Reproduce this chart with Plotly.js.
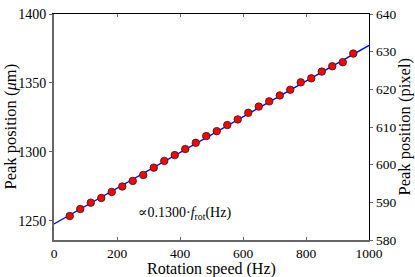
<!DOCTYPE html>
<html>
<head>
<meta charset="utf-8">
<script src="https://cdn.plot.ly/plotly-3.0.1.min.js"></script>
<style>html,body{margin:0;padding:0;background:#fff;}#chart{width:415px;height:277px;}</style>
</head>
<body>
<div id="chart"></div>
<script>
// Rotation speed (Hz) of each measurement
const speedHz = [50, 83.3, 116.7, 150, 183.3, 216.7, 250, 283.3, 316.7, 350,
  383.3, 416.7, 450, 483.3, 516.7, 550, 583.3, 616.7, 650, 683.3,
  716.7, 750, 783.3, 816.7, 850, 883.3, 916.7, 950];
// Measured peak position (µm)
const peakUm = [1253.4, 1258.5, 1263.1, 1266.5, 1270.9, 1274.8, 1278.9, 1283.2, 1288.5, 1293.4,
  1297.6, 1302.0, 1306.5, 1311.4, 1315.0, 1319.4, 1323.5, 1328.3, 1332.8, 1336.6,
  1340.9, 1345.0, 1350.4, 1353.3, 1358.2, 1362.1, 1365.0, 1371.3];
// Linear fit endpoints
const fitX = [0, 1000];
const fitY = [1247.6, 1377.2];
const xTicks = [0, 200, 400, 600, 800, 1000];
const yTicks = [1250, 1300, 1350, 1400];
const y2Ticks = [580, 590, 600, 610, 620, 630, 640];
const fitLabel = '∝0.1300·<i>f</i><sub>rot</sub>(Hz)';
const xTitle = 'Rotation speed (Hz)';
const yTitle = 'Peak position (<i>μ</i>m)';
const y2Title = 'Peak position (pixel)';

const serif = "'Liberation Serif', 'DejaVu Serif', serif";
const grey = '#666666';

const traces = [
  {x: fitX, y: fitY, mode: 'lines', line: {color: '#0000ff', width: 1.3}, hoverinfo: 'skip', showlegend: false},
  {x: speedHz, y: peakUm, mode: 'markers', marker: {color: '#ff0000', size: 7.5, line: {color: '#222', width: 0.8}}, showlegend: false},
  {x: [null], y: [null], xaxis: 'x2', yaxis: 'y2', mode: 'markers', hoverinfo: 'skip', showlegend: false}
];

const layout = {
  width: 415, height: 277,
  margin: {l: 54, r: 46, t: 14, b: 37, pad: 0},
  paper_bgcolor: '#fff', plot_bgcolor: '#fff',
  font: {family: serif, size: 14, color: '#000'},
  showlegend: false,
  xaxis: {
    automargin: false,
    range: [0, 1000], tickvals: xTicks, ticktext: xTicks.map(String),
    ticks: 'inside', ticklen: 3, tickcolor: grey, tickwidth: 1,
    showline: true, linecolor: grey, linewidth: 2, showgrid: false, zeroline: false,
    tickfont: {family: serif, size: 13.5}
  },
  xaxis2: {
    automargin: false,
    overlaying: 'x', side: 'top', matches: 'x', range: [0, 1000], tickvals: xTicks,
    ticks: 'inside', ticklen: 3, tickcolor: grey, showticklabels: false,
    showline: true, linecolor: '#000', linewidth: 1.2, showgrid: false, zeroline: false
  },
  yaxis: {
    automargin: false,
    range: [1236, 1400], tickvals: yTicks, ticktext: yTicks.map(String),
    ticks: 'outside', ticklen: 3, tickcolor: grey, tickwidth: 1,
    showline: true, linecolor: grey, linewidth: 2, showgrid: false, zeroline: false,
    tickfont: {family: serif, size: 14}
  },
  yaxis2: {
    automargin: false,
    overlaying: 'y', side: 'right', range: [580, 640], tickvals: y2Ticks, ticktext: y2Ticks.map(String),
    ticks: 'outside', ticklen: 3, tickcolor: grey,
    showline: true, linecolor: '#000', linewidth: 1.2, showgrid: false, zeroline: false,
    tickfont: {family: serif, size: 13.5}
  },
  annotations: [
    {x: 260, y: 1255, xref: 'x', yref: 'y', xanchor: 'left', yanchor: 'middle',
     text: fitLabel, showarrow: false, font: {family: serif, size: 14}},
    {x: 0.5, y: 0, xref: 'paper', yref: 'paper', xanchor: 'center', yanchor: 'top', yshift: -19, borderpad: 0,
     text: xTitle, showarrow: false, font: {family: serif, size: 16}},
    {x: 0, y: 0.5, xref: 'paper', yref: 'paper', xanchor: 'center', yanchor: 'middle', xshift: -44.5, borderpad: 0,
     textangle: -90, text: yTitle, showarrow: false, font: {family: serif, size: 16.5}},
    {x: 1, y: 0.5, xref: 'paper', yref: 'paper', xanchor: 'center', yanchor: 'middle', xshift: 34.5, borderpad: 0,
     textangle: -90, text: y2Title, showarrow: false, font: {family: serif, size: 16.5}}
  ]
};

Plotly.newPlot('chart', traces, layout, {staticPlot: true, displayModeBar: false});
</script>
</body>
</html>
